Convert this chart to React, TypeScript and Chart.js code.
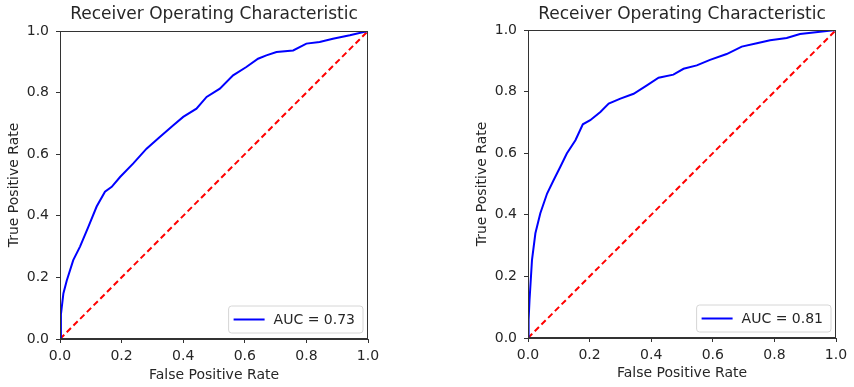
import React, { useEffect, useRef } from "react";
import { Chart, registerables } from "chart.js";

Chart.register(...registerables);

const TITLE = "Receiver Operating Characteristic";
const X_LABEL = "False Positive Rate";
const Y_LABEL = "True Positive Rate";
const TICK_VALUES = [0, 0.2, 0.4, 0.6, 0.8, 1.0];

const FPR_A = [0, 0.003, 0.011, 0.022, 0.043, 0.065, 0.092, 0.119, 0.146, 0.168, 0.195, 0.238, 0.281, 0.324, 0.368, 0.4, 0.443, 0.476, 0.519, 0.562, 0.605, 0.643, 0.67, 0.703, 0.757, 0.8, 0.843, 0.886, 0.941, 1];
const TPR_A = [0, 0.08, 0.148, 0.19, 0.256, 0.3, 0.364, 0.43, 0.478, 0.494, 0.526, 0.57, 0.618, 0.656, 0.694, 0.721, 0.748, 0.786, 0.813, 0.856, 0.883, 0.91, 0.921, 0.932, 0.937, 0.959, 0.964, 0.975, 0.986, 1];
const AUC_A = "AUC = 0.73";

const FPR_B = [0, 0.002, 0.005, 0.013, 0.024, 0.04, 0.062, 0.083, 0.105, 0.126, 0.154, 0.178, 0.202, 0.235, 0.262, 0.3, 0.343, 0.386, 0.424, 0.472, 0.505, 0.548, 0.591, 0.645, 0.694, 0.743, 0.786, 0.84, 0.883, 1];
const TPR_B = [0, 0.06, 0.124, 0.254, 0.34, 0.405, 0.469, 0.512, 0.556, 0.599, 0.642, 0.694, 0.707, 0.734, 0.761, 0.777, 0.793, 0.82, 0.845, 0.855, 0.874, 0.885, 0.903, 0.922, 0.946, 0.957, 0.967, 0.974, 0.987, 1];
const AUC_B = "AUC = 0.81";

const CHANCE_X = [0, 1];
const CHANCE_Y = [0, 1];

const FONT = "'DejaVu Sans', sans-serif";
const TEXT = "#262626";
const AXIS = "#333333";

const framePlugin = {
  id: "frameAndLegend",
  afterDatasetsDraw(chart: any) {
    const { ctx, chartArea } = chart;
    ctx.save();
    ctx.strokeStyle = AXIS;
    ctx.lineWidth = 1;
    ctx.strokeRect(chartArea.left + 0.5, chartArea.top + 0.5, chartArea.right - chartArea.left - 1, chartArea.bottom - chartArea.top - 1);

    const ds = chart.data.datasets[0];
    ctx.font = `14px ${FONT}`;
    const tw = ctx.measureText(ds.label).width;
    const h = 27;
    const w = 45 + tw + 8;
    const x = chartArea.right - 5 - w;
    const y = chartArea.bottom - 6 - h;
    ctx.beginPath();
    const r = 3;
    ctx.moveTo(x + r, y);
    ctx.arcTo(x + w, y, x + w, y + h, r);
    ctx.arcTo(x + w, y + h, x, y + h, r);
    ctx.arcTo(x, y + h, x, y, r);
    ctx.arcTo(x, y, x + w, y, r);
    ctx.closePath();
    ctx.fillStyle = "rgba(255,255,255,0.85)";
    ctx.fill();
    ctx.strokeStyle = "#d6d6d6";
    ctx.stroke();
    ctx.beginPath();
    ctx.strokeStyle = ds.borderColor;
    ctx.lineWidth = 2;
    ctx.moveTo(x + 5, y + h / 2);
    ctx.lineTo(x + 36, y + h / 2);
    ctx.stroke();
    ctx.fillStyle = TEXT;
    ctx.textBaseline = "middle";
    ctx.textAlign = "left";
    ctx.fillText(ds.label, x + 45, y + h / 2 + 1);
    ctx.restore();
  },
};

type Cfg = {
  left: number;
  width: number;
  yAxisWidth: number;
  yTitlePad: number;
  xAxisHeight: number;
  xTitlePad: number;
  titlePadTop: number;
  titlePadBottom: number;
  padRight: number;
};

function RocChart({ fpr, tpr, label, cfg }: { fpr: number[]; tpr: number[]; label: string; cfg: Cfg }) {
  const ref = useRef<HTMLCanvasElement>(null);
  useEffect(() => {
    if (!ref.current) return;
    const tickFont = { family: FONT, size: 14 };
    const common = {
      type: "linear",
      min: 0,
      max: 1,
      afterBuildTicks: (s: any) => {
        s.ticks = TICK_VALUES.map((v) => ({ value: v }));
      },
      grid: { display: true, drawOnChartArea: false, drawTicks: true, tickLength: 4, color: AXIS, tickColor: AXIS },
      border: { display: true, color: AXIS, width: 1 },
    };
    const chart = new Chart(ref.current, {
      type: "line",
      data: {
        datasets: [
          {
            label,
            data: fpr.map((x, i) => ({ x, y: tpr[i] })),
            borderColor: "#0000ff",
            borderWidth: 2,
            pointRadius: 0,
            tension: 0,
            fill: false,
          },
          {
            label: "chance",
            data: CHANCE_X.map((x, i) => ({ x, y: CHANCE_Y[i] })),
            borderColor: "#ff0000",
            borderWidth: 2,
            borderDash: [6, 3.5],
            pointRadius: 0,
            tension: 0,
            fill: false,
          },
        ],
      },
      options: {
        responsive: false,
        animation: false,
        layout: { padding: { left: 0, top: 0, right: cfg.padRight, bottom: 0 } },
        plugins: {
          legend: { display: false },
          tooltip: { enabled: false },
          title: {
            display: true,
            text: TITLE,
            fullSize: false,
            color: TEXT,
            font: { family: FONT, size: 17, weight: "normal", lineHeight: 1.2 },
            padding: { top: cfg.titlePadTop, bottom: cfg.titlePadBottom },
          },
        },
        scales: {
          x: {
            ...common,
            afterFit: (s: any) => {
              s.height = cfg.xAxisHeight;
            },
            ticks: { color: TEXT, font: tickFont, padding: 5, maxRotation: 0, callback: (v: any) => Number(v).toFixed(1) },
            title: { display: true, text: X_LABEL, color: TEXT, font: { family: FONT, size: 14, lineHeight: 1.2 }, padding: { top: 0, bottom: cfg.xTitlePad } },
          },
          y: {
            ...common,
            afterFit: (s: any) => {
              s.width = cfg.yAxisWidth;
            },
            ticks: { color: TEXT, font: tickFont, padding: 7, callback: (v: any) => Number(v).toFixed(1) },
            title: { display: true, text: Y_LABEL, color: TEXT, font: { family: FONT, size: 14, lineHeight: 1.2 }, padding: { top: cfg.yTitlePad, bottom: 0 } },
          },
        },
      } as any,
      plugins: [framePlugin],
    } as any);
    return () => chart.destroy();
  }, []);
  return (
    <canvas
      ref={ref}
      width={cfg.width}
      height={387}
      style={{ position: "absolute", left: cfg.left, top: 0, width: cfg.width, height: 387, display: "block" }}
    />
  );
}

const CFG_A: Cfg = {
  left: 0,
  width: 427,
  yAxisWidth: 60,
  yTitlePad: 5.7,
  xAxisHeight: 48,
  xTitlePad: 3.6,
  titlePadTop: 4.8,
  titlePadBottom: 5.8,
  padRight: 59,
};

const CFG_B: Cfg = {
  left: 427,
  width: 427,
  yAxisWidth: 101,
  yTitlePad: 46.6,
  xAxisHeight: 49,
  xTitlePad: 5,
  titlePadTop: 4.6,
  titlePadBottom: 5,
  padRight: 18,
};

export default function App() {
  return (
    <div style={{ position: "absolute", left: 0, top: 0, width: 854, height: 387, background: "#fff", overflow: "hidden" }}>
      <RocChart fpr={FPR_A} tpr={TPR_A} label={AUC_A} cfg={CFG_A} />
      <RocChart fpr={FPR_B} tpr={TPR_B} label={AUC_B} cfg={CFG_B} />
    </div>
  );
}
